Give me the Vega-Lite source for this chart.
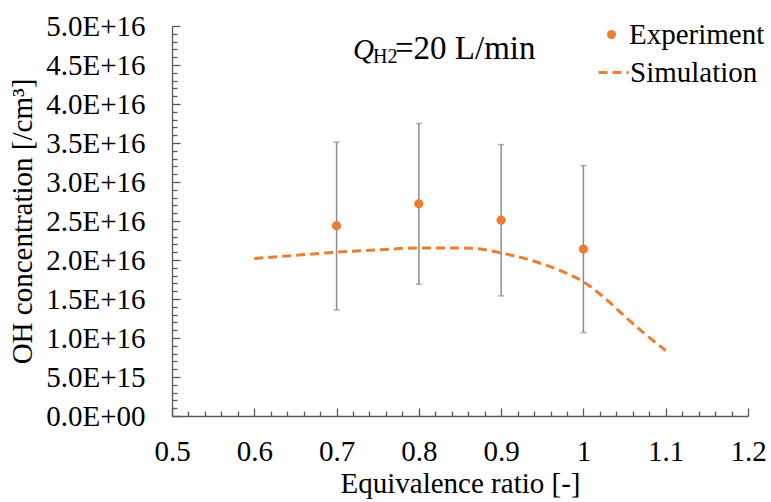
{
  "$schema": "https://vega.github.io/schema/vega-lite/v6.json",
  "autosize": "none",
  "width": 576,
  "height": 390,
  "padding": {"left": 172, "top": 26, "right": 23, "bottom": 86},
  "background": "white",
  "config": {
    "view": {"stroke": null},
    "font": "Liberation Serif",
    "axis": {
      "grid": false,
      "labelFont": "Liberation Serif",
      "labelFontSize": 29,
      "labelColor": "#000000",
      "titleFont": "Liberation Serif",
      "titleFontSize": 29,
      "titleFontWeight": "normal",
      "titleColor": "#000000",
      "domainColor": "#595959",
      "domainWidth": 1.3,
      "tickColor": "#595959",
      "tickWidth": 1.3,
      "labelOverlap": false,
      "labelFlush": false,
      "labelBound": false
    },
    "legend": {
      "labelFont": "Liberation Serif",
      "labelFontSize": 29,
      "labelColor": "#000000",
      "padding": 0
    }
  },
  "datasets": {
    "exp": [
      {"phi": 0.7, "oh": 2.44e16, "lo": 1.36e16, "hi": 3.51e16},
      {"phi": 0.8, "oh": 2.72e16, "lo": 1.69e16, "hi": 3.75e16},
      {"phi": 0.9, "oh": 2.51e16, "lo": 1.54e16, "hi": 3.48e16},
      {"phi": 1.0, "oh": 2.14e16, "lo": 1.07e16, "hi": 3.21e16}
    ],
    "sim": [
      {"phi": 0.6, "oh": 2.02e16},
      {"phi": 0.65, "oh": 2.06e16},
      {"phi": 0.7, "oh": 2.10e16},
      {"phi": 0.75, "oh": 2.13e16},
      {"phi": 0.8, "oh": 2.155e16},
      {"phi": 0.85, "oh": 2.155e16},
      {"phi": 0.875, "oh": 2.14e16},
      {"phi": 0.9, "oh": 2.09e16},
      {"phi": 0.925, "oh": 2.03e16},
      {"phi": 0.95, "oh": 1.95e16},
      {"phi": 0.975, "oh": 1.85e16},
      {"phi": 1.0, "oh": 1.72e16},
      {"phi": 1.025, "oh": 1.52e16},
      {"phi": 1.05, "oh": 1.28e16},
      {"phi": 1.075, "oh": 1.05e16},
      {"phi": 1.1, "oh": 0.84e16}
    ]
  },
  "layer": [
    {
      "data": {"name": "sim"},
      "mark": {"type": "line", "color": "#ED7D31", "strokeWidth": 3, "interpolate": "monotone"},
      "encoding": {
        "x": {
          "field": "phi", "type": "quantitative",
          "scale": {"domain": [0.5, 1.2], "nice": false, "zero": false},
          "title": "Equivalence ratio [-]",
          "axis": {
            "values": [0.5,0.52,0.54,0.56,0.58,0.6,0.62,0.64,0.66,0.68,0.7,0.72,0.74,0.76,0.78,0.8,0.82,0.84,0.86,0.88,0.9,0.92,0.94,0.96,0.98,1.0,1.02,1.04,1.06,1.08,1.1,1.12,1.14,1.16,1.18,1.2],
            "tickCount": 200,
            "labelExpr": "abs(datum.value*10 - round(datum.value*10)) < 0.001 ? format(datum.value, '.1~f') : ''",
            "tickSize": {"condition": {"test": "abs(datum.value*10 - round(datum.value*10)) < 0.001", "value": -8}, "value": -5},
            "labelPadding": 29,
            "titlePadding": 0
          }
        },
        "y": {
          "field": "oh", "type": "quantitative",
          "scale": {"domain": [0, 5e16], "nice": false},
          "title": "OH concentration [/cm³]",
          "axis": {
            "values": [0,1e15,2e15,3e15,4e15,5e15,6e15,7e15,8e15,9e15,1e16,1.1e16,1.2e16,1.3e16,1.4e16,1.5e16,1.6e16,1.7e16,1.8e16,1.9e16,2e16,2.1e16,2.2e16,2.3e16,2.4e16,2.5e16,2.6e16,2.7e16,2.8e16,2.9e16,3e16,3.1e16,3.2e16,3.3e16,3.4e16,3.5e16,3.6e16,3.7e16,3.8e16,3.9e16,4e16,4.1e16,4.2e16,4.3e16,4.4e16,4.5e16,4.6e16,4.7e16,4.8e16,4.9e16,5e16],
            "tickCount": 200,
            "labelExpr": "abs(datum.value/5e15 - round(datum.value/5e15)) < 0.001 ? (datum.value == 0 ? '0.0E+00' : replace(format(datum.value, '.1e'), 'e', 'E')) : ''",
            "tickSize": {"condition": {"test": "abs(datum.value/5e15 - round(datum.value/5e15)) < 0.001", "value": -8}, "value": -5},
            "labelPadding": 35,
            "titlePadding": 8
          }
        },
        "strokeDash": {
          "datum": "Simulation",
          "scale": {"range": [[9, 5]]},
          "legend": {
            "title": null,
            "orient": "none",
            "legendX": 425,
            "legendY": 30,
            "symbolType": "stroke",
            "symbolSize": 900,
            "symbolStrokeColor": "#ED7D31",
            "symbolStrokeWidth": 3,
            "labelOffset": 0,
            "encode": {"symbols": {"update": {"strokeDash": {"value": [7, 4]}}}}
          }
        }
      }
    },
    {
      "data": {"name": "exp"},
      "mark": {"type": "errorbar", "color": "#8c8c8c", "thickness": 1.5, "ticks": {"size": 6, "thickness": 1.5, "color": "#8c8c8c"}},
      "encoding": {
        "x": {"field": "phi", "type": "quantitative", "title": "Equivalence ratio [-]"},
        "y": {"field": "lo", "type": "quantitative", "title": "OH concentration [/cm³]"},
        "y2": {"field": "hi"}
      }
    },
    {
      "data": {"name": "exp"},
      "mark": {"type": "point", "filled": true, "color": "#ED7D31", "size": 85, "opacity": 1},
      "encoding": {
        "x": {"field": "phi", "type": "quantitative", "title": "Equivalence ratio [-]"},
        "y": {"field": "oh", "type": "quantitative", "title": "OH concentration [/cm³]"},
        "shape": {
          "datum": "Experiment",
          "scale": {"range": ["circle"]},
          "legend": {
            "title": null,
            "orient": "none",
            "legendX": 425,
            "legendY": -6,
            "symbolSize": 80,
            "symbolFillColor": "#ED7D31",
            "symbolStrokeWidth": 0,
            "labelOffset": 3
          }
        }
      }
    },
    {
      "data": {"values": [{"t": "Q"}]},
      "mark": {"type": "text", "align": "left", "baseline": "alphabetic", "font": "Liberation Serif", "fontSize": 29, "fontStyle": "italic", "color": "#000000"},
      "encoding": {
        "text": {"field": "t"},
        "x": {"datum": 0.72},
        "y": {"datum": 4.577e16}
      }
    },
    {
      "data": {"values": [{"t": "H2"}]},
      "mark": {"type": "text", "align": "left", "baseline": "alphabetic", "font": "Liberation Serif", "fontSize": 20, "color": "#000000"},
      "encoding": {
        "text": {"field": "t"},
        "x": {"datum": 0.7443},
        "y": {"datum": 4.526e16}
      }
    },
    {
      "data": {"values": [{"t": "=20 L/min"}]},
      "mark": {"type": "text", "align": "left", "baseline": "alphabetic", "font": "Liberation Serif", "fontSize": 33, "color": "#000000"},
      "encoding": {
        "text": {"field": "t"},
        "x": {"datum": 0.771},
        "y": {"datum": 4.577e16}
      }
    }
  ]
}
